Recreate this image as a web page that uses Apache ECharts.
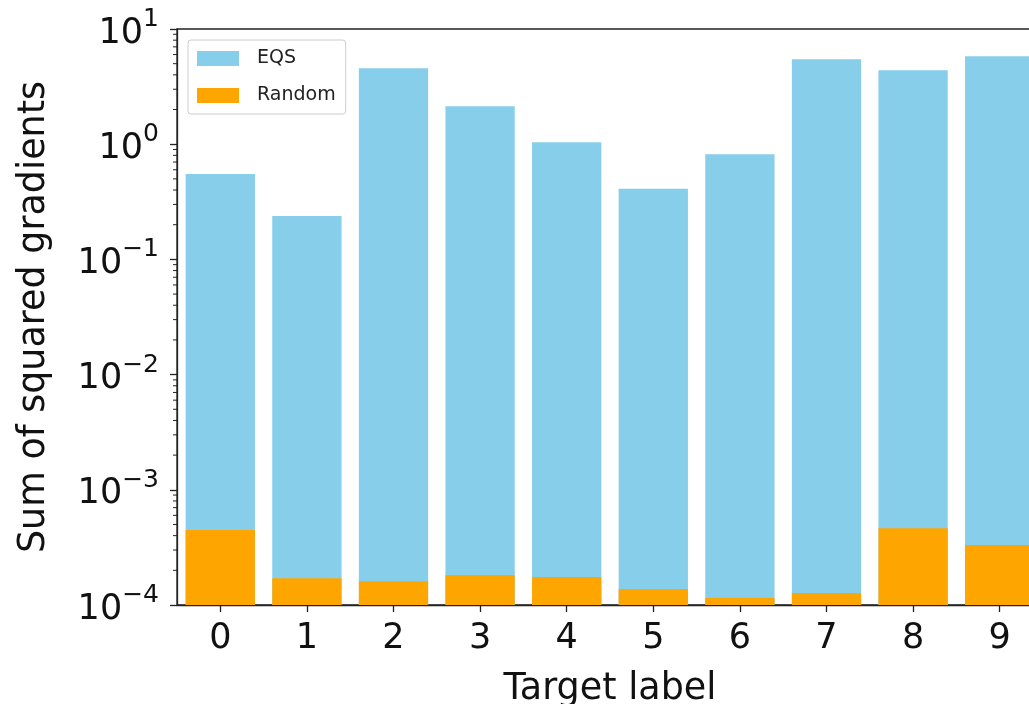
<!DOCTYPE html>
<html>
<head>
<meta charset="utf-8">
<script src="https://cdn.jsdelivr.net/npm/echarts@6/dist/echarts.min.js"></script>
<style>
html,body{margin:0;padding:0;background:#fff;}
#chart{width:1029px;height:704px;}
</style>
</head>
<body>
<div id="chart"></div>
<script>
const categories = ['0','1','2','3','4','5','6','7','8','9'];
const eqsValues = [0.55, 0.238, 4.56, 2.13, 1.04, 0.41, 0.82, 5.45, 4.38, 5.79];
const randomValues = [4.47e-4, 1.71e-4, 1.61e-4, 1.82e-4, 1.75e-4, 1.38e-4, 1.15e-4, 1.27e-4, 4.64e-4, 3.31e-4];
const seriesNames = ['EQS', 'Random'];
const seriesColors = ['#87CEEB', '#FFA500'];
const yMin = 1e-4, yMax = 10;
const minorTicks = [];
for (let k = -4; k <= 0; k++) { for (let m = 2; m <= 9; m++) minorTicks.push(m * Math.pow(10, k)); }

const FONT = 'DejaVu Sans';

function barRender(params, api) {
  const i = api.value(0);
  const top = api.coord([i, api.value(1)]);
  const base = api.coord([i, yMin]);
  const w = api.size([1, 0])[0] * 0.8;
  return {
    type: 'rect',
    shape: { x: top[0] - w / 2, y: top[1], width: w, height: base[1] - top[1] },
    style: { fill: api.visual('color') }
  };
}

const chart = echarts.init(document.getElementById('chart'));
chart.setOption({
  animation: false,
  backgroundColor: '#fff',
  textStyle: { fontFamily: FONT },
  grid: { left: 177, top: 29, width: 866, height: 576, outerBoundsMode: 'none', containLabel: false, show: true, borderColor: '#222', borderWidth: 1.3, backgroundColor: 'transparent' },
  legend: {
    data: seriesNames, orient: 'vertical', left: 188, top: 40,
    padding: [9, 10, 9, 9], itemWidth: 42, itemHeight: 15, itemGap: 18, icon: 'rect',
    backgroundColor: 'rgba(255,255,255,0.8)', borderColor: '#ccc', borderWidth: 1, borderRadius: 3,
    textStyle: { fontFamily: FONT, fontSize: 19, color: '#222', padding: [0, 0, 0, 13] }
  },
  xAxis: {
    type: 'category', data: categories,
    axisLine: { show: true, lineStyle: { color: '#222', width: 1.3 } },
    axisTick: { show: true, alignWithLabel: true, length: 7, lineStyle: { color: '#222', width: 1.3 } },
    axisLabel: { fontSize: 35, color: '#111', margin: 16, fontFamily: FONT },
    name: 'Target label', nameLocation: 'middle', nameGap: 66,
    nameTextStyle: { fontSize: 36.5, color: '#111', fontFamily: FONT },
    splitLine: { show: false }
  },
  yAxis: {
    type: 'log', logBase: 10, min: yMin, max: yMax, splitNumber: 5,
    axisLine: { show: true, lineStyle: { color: '#222', width: 1.3 } },
    axisTick: { show: true, length: 7, lineStyle: { color: '#222', width: 1.3 } },
    splitLine: { show: false },
    axisLabel: {
      margin: 18, fontFamily: FONT,
      formatter: function (v) {
        const e = Math.round(Math.log10(v));
        const s = e < 0 ? '\u2212' + (-e) : String(e);
        return '{b|10}{s|' + s + '}';
      },
      rich: {
        b: { fontSize: 35, color: '#111', fontFamily: FONT, lineHeight: 44, verticalAlign: 'bottom' },
        s: { fontSize: 25, color: '#111', fontFamily: FONT, lineHeight: 25, verticalAlign: 'top' }
      }
    },
    name: 'Sum of squared gradients', nameLocation: 'middle', nameGap: 124,
    nameTextStyle: { fontSize: 36.5, color: '#111', fontFamily: FONT }
  },
  series: [
    {
      name: seriesNames[0], type: 'custom', z: 2, itemStyle: { color: seriesColors[0] },
      data: eqsValues.map((v, i) => [i, v]), encode: { x: 0, y: 1 }, renderItem: barRender
    },
    {
      name: seriesNames[1], type: 'custom', z: 3, itemStyle: { color: seriesColors[1] },
      data: randomValues.map((v, i) => [i, v]), encode: { x: 0, y: 1 }, renderItem: barRender
    },
    {
      type: 'custom', silent: true, z: 10, clip: false,
      data: minorTicks.map(v => [0, v]),
      encode: { x: 0, y: 1 },
      renderItem: function (params, api) {
        const p = api.coord([0, api.value(1)]);
        const bw = api.size([1, 0])[0];
        const x0 = p[0] - bw / 2;
        return { type: 'line', shape: { x1: x0 - 4, y1: p[1], x2: x0, y2: p[1] }, style: { stroke: '#222', lineWidth: 1 } };
      }
    }
  ]
});
</script>
</body>
</html>
